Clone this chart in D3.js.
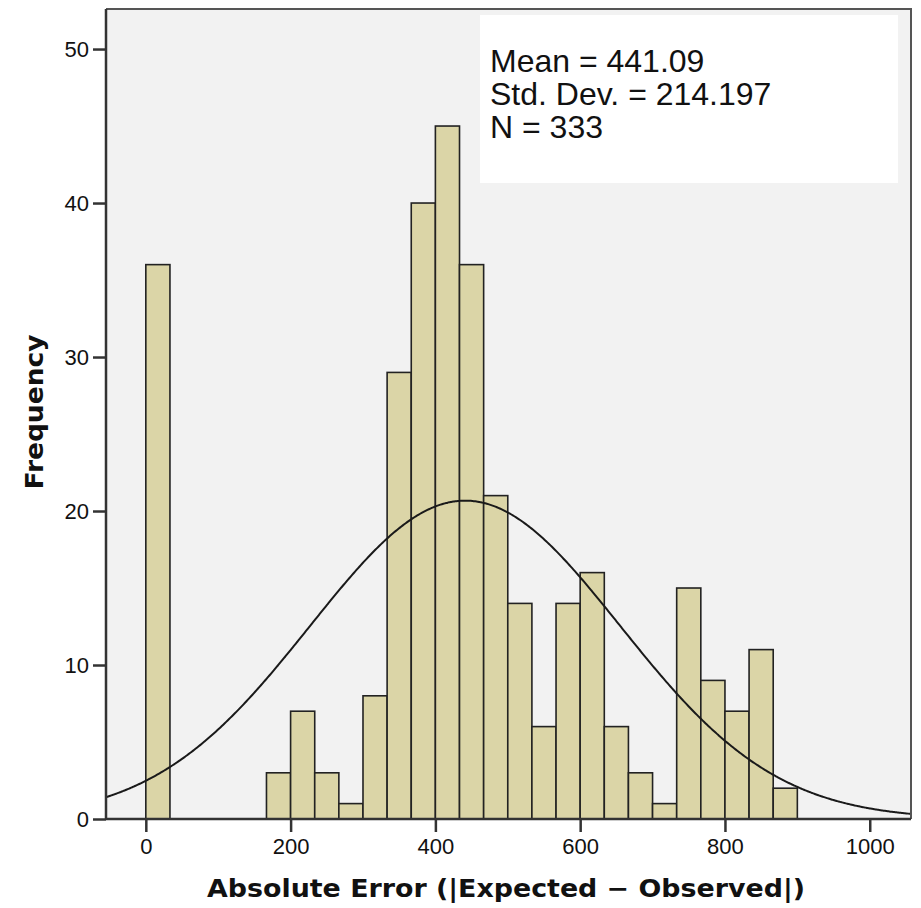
<!DOCTYPE html>
<html><head><meta charset="utf-8">
<script src="https://cdn.jsdelivr.net/npm/d3@7"></script>
<style>html,body{margin:0;padding:0;background:#fff;}svg{display:block;}</style>
</head><body>
<script>
// Data
const binStarts = [0,33.33,66.67,100,133.33,166.67,200,233.33,266.67,300,333.33,366.67,400,433.33,466.67,500,533.33,566.67,600,633.33,666.67,700,733.33,766.67,800,833.33,866.67];
const binWidth = 33.333;
const counts = [36,0,0,0,0,3,7,3,1,8,29,40,45,36,21,14,6,14,16,6,3,1,15,9,7,11,2];
const xTicks = [0,200,400,600,800,1000];
const yTicks = [0,10,20,30,40,50];
const stats = ["Mean = 441.09","Std. Dev. = 214.197","N = 333"];
const mean = 441.09, sd = 214.197, n = 333;

const W = 921, H = 908;
const svg = d3.select("body").append("svg").attr("width",W).attr("height",H);
const L = 106, R = 911, T = 9, B = 819;
const x = d3.scaleLinear().domain([-55,1057]).range([L,R]);
const y = d3.scaleLinear().domain([0,52.6]).range([B,T]);

svg.append("rect").attr("x",L).attr("y",T).attr("width",R-L).attr("height",B-T).attr("fill","#f2f2f2");

// legend box
svg.append("rect").attr("x",480).attr("y",15).attr("width",418).attr("height",168).attr("fill","#ffffff");
svg.append("g").selectAll("text").data(stats).join("text")
  .attr("x",490).attr("y",(d,i)=>72+i*33)
  .attr("font-family","Liberation Sans, Arial, sans-serif").attr("font-size",32).attr("fill","#111")
  .text(d=>d);

// bars
const bins = binStarts.map((s,i)=>({x0:s,x1:s+binWidth,c:counts[i]})).filter(d=>d.c>0);
svg.append("g").selectAll("rect").data(bins).join("rect")
  .attr("x",d=>x(d.x0)).attr("width",d=>x(d.x1)-x(d.x0))
  .attr("y",d=>y(d.c)).attr("height",d=>y(0)-y(d.c))
  .attr("fill","#dbd5a7").attr("stroke","#222").attr("stroke-width",1.6);

// normal curve
const pts = d3.range(-55,1057.01,2).map(v=>[v, n*binWidth/(sd*Math.sqrt(2*Math.PI))*Math.exp(-0.5*((v-mean)/sd)**2)]);
svg.append("clipPath").attr("id","clip").append("rect").attr("x",L).attr("y",T).attr("width",R-L).attr("height",B-T);
svg.append("path").datum(pts).attr("clip-path","url(#clip)")
  .attr("d",d3.line().x(d=>x(d[0])).y(d=>y(d[1])).curve(d3.curveBasis))
  .attr("fill","none").attr("stroke","#1a1a1a").attr("stroke-width",2);

// frame
svg.append("path").attr("d",`M${L},${T}H${R}V${B}`).attr("fill","none").attr("stroke","#555").attr("stroke-width",2);

// axes
const xa = svg.append("g").attr("transform",`translate(0,${B})`)
  .call(d3.axisBottom(x).tickValues(xTicks).tickSize(13).tickPadding(6).tickSizeOuter(0).tickFormat(d3.format("d")));
const ya = svg.append("g").attr("transform",`translate(${L},0)`)
  .call(d3.axisLeft(y).tickValues(yTicks).tickSize(13).tickPadding(4).tickSizeOuter(0));
[xa,ya].forEach(a=>{
  a.select(".domain").attr("stroke","#333").attr("stroke-width",2.5);
  a.selectAll(".tick line").attr("stroke","#333").attr("stroke-width",2.5);
  a.selectAll(".tick text").attr("font-family","Liberation Sans, Arial, sans-serif").attr("font-size",22).attr("fill","#111");
});
ya.select(".domain").attr("d",`M0,${B}V${T}`);
xa.select(".domain").attr("d",`M${L},0H${R}`);
ya.selectAll(".tick text").attr("dy","0.36em");

// titles
svg.append("text").attr("x",506).attr("y",897).attr("text-anchor","middle")
  .attr("font-family","DejaVu Sans, Verdana, sans-serif").attr("font-weight","bold").attr("font-size",25).attr("fill","#111")
  .attr("textLength",598).attr("lengthAdjust","spacingAndGlyphs")
  .text("Absolute Error (|Expected − Observed|)");
svg.append("text").attr("transform","translate(43,412) rotate(-90)").attr("text-anchor","middle")
  .attr("font-family","DejaVu Sans, Verdana, sans-serif").attr("font-weight","bold").attr("font-size",25).attr("fill","#111")
  .attr("textLength",155).attr("lengthAdjust","spacingAndGlyphs")
  .text("Frequency");
</script>
</body></html>
